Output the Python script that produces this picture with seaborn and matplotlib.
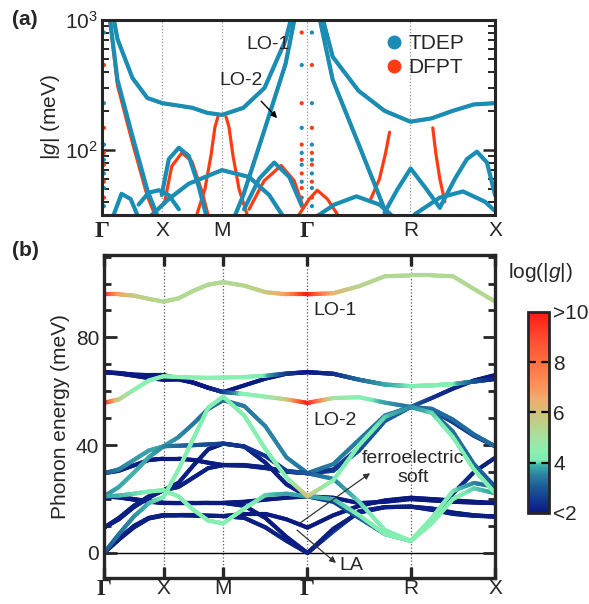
import numpy as np
import matplotlib
matplotlib.use("Agg")
import matplotlib.pyplot as plt
import seaborn as sns
import pandas as pd
from matplotlib.collections import LineCollection
from matplotlib.colors import LinearSegmentedColormap, Normalize
from matplotlib.lines import Line2D

sns.set_style("ticks")
plt.rcParams['font.family'] = ['Liberation Sans', 'DejaVu Sans']
plt.rcParams['mathtext.fontset'] = 'custom'
plt.rcParams['mathtext.rm'] = 'Liberation Sans'
plt.rcParams['mathtext.it'] = 'Liberation Sans:italic'

# ---- path Γ-X-M-Γ-R-X (cubic, units of 2π/a)
hs_labels = ['Γ', 'X', 'M', 'Γ', 'R', 'X']
hs_k = [0.0, 0.5, 1.0, 1.707, 2.573, 3.280]
k_grid = [0.0, 0.125, 0.25, 0.375, 0.5, 0.625, 0.75, 0.875, 1.0,
          1.177, 1.354, 1.530, 1.707, 1.924, 2.140, 2.357, 2.573,
          2.750, 2.927, 3.103, 3.280]

# ---- (b) phonon bands (meV) and log|g| colour along k_grid
e_lo1 = [96.0, 96.0, 95.5, 94.3, 93.3, 94.5, 97.3, 99.6, 100.5, 99.2, 96.8, 96.0, 96.0, 96.4, 99.0, 102.7, 103.0, 103.0, 102.7, 98.0, 93.3]
c_lo1 = [10, 6.8, 5.8, 5.5, 5.4, 5.3, 5.3, 5.3, 5.3, 5.4, 5.7, 6.8, 10, 6.3, 5.5, 5.3, 5.3, 5.3, 5.3, 5.3, 5.4]
e_b2 = [67.1, 66.6, 65.8, 64.9, 64.3, 64.4, 63.2, 61.3, 59.7, 59.0, 58.0, 57.0, 55.7, 57.5, 57.8, 55.8, 54.2, 57.5, 61.0, 64.0, 66.0]
c_b2 = [2.0, 2.0, 2.0, 2.0, 2.0, 2.0, 2.0, 2.0, 2.5, 4.4, 4.6, 5.6, 10, 5.0, 4.4, 3.8, 3.3, 2.4, 2.2, 2.1, 2.0]
e_b3 = [55.7, 57.0, 60.5, 64.0, 65.6, 65.3, 65.1, 65.0, 65.1, 65.3, 65.8, 66.6, 67.1, 66.5, 64.3, 62.5, 61.9, 62.2, 62.7, 63.6, 64.6]
c_b3 = [10, 5.6, 4.6, 4.4, 4.4, 4.4, 4.4, 4.4, 4.4, 4.4, 4.1, 2.6, 2.0, 2.3, 3.2, 3.8, 4.1, 4.2, 4.2, 3.0, 2.2]
e_b4 = [29.6, 31.0, 34.5, 38.0, 39.6, 43.0, 48.0, 53.5, 56.7, 54.5, 47.0, 35.5, 29.6, 33.0, 42.0, 51.0, 54.2, 53.5, 49.5, 44.0, 39.6]
c_b4 = [3.0, 3.4, 3.7, 3.8, 3.8, 3.6, 3.4, 3.3, 3.3, 3.4, 3.5, 3.5, 3.3, 3.4, 3.4, 3.3, 3.2, 3.2, 3.2, 3.2, 3.2]
e_b5 = [29.6, 30.5, 32.5, 34.5, 35.0, 35.0, 34.5, 33.5, 32.6, 32.6, 31.8, 30.2, 29.6, 31.0, 39.0, 49.5, 54.2, 52.5, 45.0, 33.0, 24.6]
c_b5 = [2.6, 2.3, 2.1, 2.0, 2.0, 2.0, 2.0, 2.0, 2.1, 2.1, 2.1, 2.2, 2.5, 2.4, 2.8, 3.0, 3.0, 3.2, 3.3, 3.2, 3.0]
e_b6 = [21.0, 24.5, 29.8, 35.5, 39.6, 39.8, 40.0, 40.3, 40.6, 39.5, 36.0, 30.5, 29.6, 27.5, 19.0, 8.5, 4.5, 11.0, 20.0, 24.0, 22.2]
c_b6 = [3.6, 3.8, 3.9, 3.8, 3.6, 3.2, 3.0, 2.8, 2.6, 2.4, 2.4, 2.6, 3.0, 3.5, 4.0, 4.2, 4.3, 4.3, 4.2, 4.0, 3.8]
e_b7 = [21.0, 20.8, 20.0, 19.2, 18.6, 18.5, 18.5, 18.6, 18.6, 19.0, 19.8, 20.5, 21.0, 20.5, 18.5, 19.0, 20.0, 19.5, 19.0, 18.7, 18.5]
c_b7 = [2.0] * 21
e_b8 = [9.4, 13.0, 17.5, 21.0, 23.3, 26.0, 32.5, 38.5, 40.6, 39.5, 33.5, 25.5, 21.0, 19.0, 13.0, 7.0, 4.5, 12.0, 22.0, 30.0, 35.3]
c_b8 = [2.1] * 12 + [2.3, 2.6, 3.0, 3.4, 3.6, 3.0, 2.5, 2.2, 2.1]
e_b9 = [0.0, 7.0, 13.5, 18.5, 20.8, 31.0, 42.5, 54.0, 58.0, 51.0, 38.5, 28.0, 21.0, 27.0, 40.0, 50.5, 54.2, 52.0, 43.0, 31.0, 22.2]
c_b9 = [3.0, 3.3, 3.6, 3.9, 4.1, 4.3, 4.3, 4.3, 4.3, 4.3, 4.3, 4.3, 6.0, 4.3, 4.2, 4.0, 3.6, 4.0, 4.2, 4.3, 4.3]
e_b10 = [0.0, 5.0, 9.5, 12.8, 13.9, 14.0, 14.0, 13.8, 13.7, 14.5, 14.5, 12.5, 9.4, 14.0, 17.5, 19.5, 20.5, 20.0, 19.5, 19.0, 18.5]
c_b10 = [2.0] * 21
e_b11 = [0.0, 5.3, 10.0, 13.0, 14.1, 14.0, 13.9, 13.8, 13.7, 13.0, 9.5, 4.5, 0.0, 9.0, 15.0, 17.0, 17.2, 16.0, 14.5, 13.8, 13.5]
c_b11 = [2.1] * 21
e_b12 = [9.4, 12.5, 17.0, 20.5, 23.3, 24.5, 28.0, 31.5, 32.6, 32.4, 31.5, 30.2, 29.6, 30.5, 38.0, 49.0, 54.2, 53.0, 48.5, 43.5, 39.6]
c_b12 = [2.1] * 12 + [2.5, 2.7, 2.9, 3.0, 3.0, 2.8, 2.6, 2.5, 2.4]
e_b13 = [21.0, 21.3, 22.0, 22.8, 23.3, 21.0, 16.0, 12.0, 11.0, 16.5, 21.5, 22.0, 21.0, 20.0, 14.0, 7.0, 4.5, 13.0, 23.0, 26.0, 24.6]
c_b13 = [3.8, 3.9, 4.0, 4.1, 4.2, 4.3, 4.3, 4.3, 4.3, 4.2, 4.0, 3.8, 3.8, 3.9, 4.1, 4.2, 4.3, 4.3, 4.1, 3.6, 3.0]
e_b14 = [21.0, 20.6, 19.8, 19.0, 18.6, 18.6, 18.6, 18.6, 18.6, 17.5, 13.0, 6.0, 0.0, 8.0, 15.5, 17.0, 17.2, 16.5, 15.0, 14.0, 13.5]
c_b14 = [2.0] * 12 + [2.2, 2.6, 2.4, 2.2, 2.1, 2.1, 2.0, 2.0, 2.0]
e_b15 = [67.1, 66.8, 66.2, 66.0, 66.0, 64.8, 63.2, 61.3, 59.7, 62.2, 64.7, 66.5, 67.1, 66.5, 64.3, 62.5, 61.9, 62.2, 62.7, 63.6, 64.6]
c_b15 = [2.0] * 13 + [2.3, 3.2, 3.8, 4.1, 4.2, 4.2, 3.0, 2.2]

# ---- (a) |g| (meV) curves: (k, value) pairs
g_lo1_tdep = [3000, 714, 358, 251, 229, 220, 211, 193, 186, 211, 300, 700, 3000, 520, 285, 200, 165, 175, 200, 224, 229]
k_lo2_gx = [0.0, 0.125, 0.25, 0.375, 0.5]
g_lo2_gx_tdep = [3000, 346, 128, 49, 25]
g_lo2_gx_dfpt = [3000, 315, 114, 44, 23]
k_lo2_mg = [1.0, 1.177, 1.354, 1.530, 1.707]
g_lo2_mg = [18, 45, 143, 460, 3000]
k_lo2_gr = [1.707, 1.924, 2.140, 2.357, 2.573]
g_lo2_gr = [3000, 346, 111, 35, 18]

k_arch_xm_tdep = [0.495, 0.554, 0.638, 0.721, 0.805, 0.872]
g_arch_xm_tdep = [45, 85, 104, 90, 52, 30]
k_arch_xm_dfpt = [0.520, 0.579, 0.663, 0.747, 0.831, 0.889]
g_arch_xm_dfpt = [40, 75, 95, 82, 48, 30]
k_arch_m = [0.386, 0.554, 0.721, 0.998, 1.225, 1.393, 1.518]
g_arch_m = [30, 42, 55, 70, 62, 45, 30]
k_arch_gx = [0.084, 0.159, 0.235, 0.302]
g_arch_gx = [30, 46, 42, 30]
k_flat_x = [0.302, 0.386, 0.470, 0.554, 0.638]
g_flat_x = [38, 47, 49, 45, 35]
k_arch_mg_tdep = [1.183, 1.309, 1.435, 1.561, 1.661]
g_arch_mg_tdep = [35, 60, 80, 62, 38]
k_arch_mg_dfpt = [1.225, 1.351, 1.493, 1.602, 1.678]
g_arch_mg_dfpt = [35, 58, 76, 58, 36]
k_arch_r = [2.357, 2.466, 2.575, 2.693, 2.819]
g_arch_r = [33, 50, 72, 52, 36]
k_arch_rx = [2.819, 2.945, 3.045, 3.129, 3.213, 3.280]
g_arch_rx = [36, 60, 85, 97, 80, 45]
k_low_gr = [1.770, 1.938, 2.122, 2.315, 2.441]
g_low_gr = [30, 38, 44, 38, 30]
k_low_rx = [2.609, 2.819, 3.012, 3.196, 3.280]
g_low_rx = [32, 43, 48, 40, 34]
k_spike_m1 = [0.789, 0.856, 0.906, 0.940, 0.965]
g_spike_m1 = [32, 50, 90, 150, 180]
k_spike_m2 = [1.032, 1.057, 1.091, 1.141, 1.208]
g_spike_m2 = [180, 150, 90, 50, 32]
k_spike_r1 = [2.232, 2.315, 2.366, 2.399]
g_spike_r1 = [40, 60, 95, 137]
k_spike_r2 = [2.861, 2.819, 2.785, 2.760]
g_spike_r2 = [40, 60, 95, 148]
k_low_g_dfpt = [1.644, 1.728, 1.795, 1.879, 1.963]
g_low_g_dfpt = [32, 42, 49, 42, 32]
# points just off Γ (dotted columns)
k_col = [0.012, 1.665, 1.750]
g_col = [37, 43, 51, 57, 66, 77, 84, 95, 110, 148, 229, 450, 800]

tdep_color = '#1a8db4'
dfpt_color = '#fe3c14'

# colour map log|g| 2..10
cmap = LinearSegmentedColormap.from_list('gcm', [
    (0.000, '#0a1a80'), (0.060, '#12368f'), (0.125, '#1a5a9a'),
    (0.190, '#2a84a2'), (0.235, '#3fb0aa'), (0.260, '#7ceeb2'),
    (0.310, '#8cf0b0'), (0.375, '#a4e2a0'), (0.440, '#bcd28a'),
    (0.500, '#d2c07a'), (0.560, '#f0ae6c'), (0.625, '#fb955a'),
    (0.750, '#ff7040'), (0.875, '#ff4a2c'), (1.000, '#ff1a10')])
norm = Normalize(2, 10)

fig = plt.figure(figsize=(5.89, 6.04), dpi=100)
ax_a = fig.add_axes([0.1740, 0.644, 0.6664, 0.323])
ax_b = fig.add_axes([0.1766, 0.0430, 0.6638, 0.534])
cax = fig.add_axes([0.8964, 0.1507, 0.0357, 0.333])

# ================= panel (a)
curves_a = [
    ('DFPT', k_grid, g_lo1_tdep), ('DFPT', k_lo2_gx, g_lo2_gx_dfpt),
    ('DFPT', k_lo2_mg, g_lo2_mg), ('DFPT', k_lo2_gr, g_lo2_gr),
    ('DFPT', k_arch_xm_dfpt, g_arch_xm_dfpt), ('DFPT', k_arch_mg_dfpt, g_arch_mg_dfpt),
    ('DFPT', k_spike_m1, g_spike_m1), ('DFPT', k_spike_m2, g_spike_m2),
    ('DFPT', k_spike_r1, g_spike_r1), ('DFPT', k_spike_r2, g_spike_r2),
    ('DFPT', k_low_g_dfpt, g_low_g_dfpt), ('DFPT', k_arch_m, g_arch_m),
    ('TDEP', k_grid, g_lo1_tdep), ('TDEP', k_lo2_gx, g_lo2_gx_tdep),
    ('TDEP', k_lo2_mg, g_lo2_mg), ('TDEP', k_lo2_gr, g_lo2_gr),
    ('TDEP', k_arch_xm_tdep, g_arch_xm_tdep), ('TDEP', k_arch_m, g_arch_m),
    ('TDEP', k_arch_gx, g_arch_gx), ('TDEP', k_flat_x, g_flat_x),
    ('TDEP', k_arch_mg_tdep, g_arch_mg_tdep), ('TDEP', k_arch_r, g_arch_r),
    ('TDEP', k_arch_rx, g_arch_rx), ('TDEP', k_low_gr, g_low_gr),
    ('TDEP', k_low_rx, g_low_rx),
]
rows = []
for i, (meth, kk, gg) in enumerate(curves_a):
    for k, g in zip(kk, gg):
        rows.append({'k': k, 'g': g, 'curve': i, 'method': meth})
df_a = pd.DataFrame(rows)

ax_a.set_yscale('log')
sns.lineplot(data=df_a[df_a.method == 'DFPT'], x='k', y='g', units='curve',
             estimator=None, sort=False, color=dfpt_color, lw=2.3, ax=ax_a, legend=False)
sns.lineplot(data=df_a[df_a.method == 'TDEP'], x='k', y='g', units='curve',
             estimator=None, sort=False, color=tdep_color, lw=3.0, ax=ax_a, legend=False)

col_rows = []
for j, kc in enumerate(k_col):
    for n, g in enumerate(g_col):
        col_rows.append({'k': kc, 'g': g, 'method': 'TDEP' if (n + j) % 2 == 0 else 'DFPT'})
df_col = pd.DataFrame(col_rows)
sns.scatterplot(data=df_col, x='k', y='g', hue='method',
                palette={'TDEP': tdep_color, 'DFPT': dfpt_color},
                s=9, edgecolor='none', ax=ax_a, legend=False)

ax_a.set_xlim(hs_k[0], hs_k[-1])
ax_a.set_ylim(31.6, 1000)
for k in hs_k[1:-1]:
    ax_a.axvline(k, color='#999999', ls=':', lw=0.9, zorder=0)
ax_a.set_xticks(hs_k)
ax_a.set_xticklabels(hs_labels)
ax_a.set_xlabel('')
ax_a.set_ylabel('|$g$| (meV)', fontsize=15, labelpad=2)
ax_a.tick_params(axis='x', length=0, labelsize=15, pad=4)
ax_a.tick_params(axis='y', which='major', direction='in', length=9, width=1.8,
                 labelsize=15, right=True)
ax_a.tick_params(axis='y', which='minor', direction='in', length=5, width=1.4, right=True)
for s in ax_a.spines.values():
    s.set_linewidth(2.2)

ax_a.text(0.422, 0.872, 'LO-1', transform=ax_a.transAxes, fontsize=14,
          ha='center', va='center')
ax_a.annotate('LO-2', xy=(0.445, 0.497), xytext=(0.354, 0.69),
              xycoords='axes fraction', textcoords='axes fraction',
              fontsize=14, ha='center', va='center',
              arrowprops=dict(arrowstyle='-|>', color='k', lw=1.0,
                              shrinkA=9, shrinkB=0, mutation_scale=9))
handles = [Line2D([], [], ls='none', marker='o', ms=9, color=tdep_color),
           Line2D([], [], ls='none', marker='o', ms=9, color=dfpt_color)]
ax_a.legend(handles, ['TDEP', 'DFPT'], loc='upper left', bbox_to_anchor=(0.69, 0.97),
            frameon=False, fontsize=15, handletextpad=0.1, labelspacing=0.25,
            handlelength=1.2, borderaxespad=0)

# ================= panel (b)
bands = [(e_lo1, c_lo1), (e_b2, c_b2), (e_b3, c_b3), (e_b4, c_b4), (e_b5, c_b5),
         (e_b6, c_b6), (e_b7, c_b7), (e_b8, c_b8), (e_b9, c_b9), (e_b10, c_b10),
         (e_b11, c_b11), (e_b12, c_b12), (e_b13, c_b13), (e_b14, c_b14), (e_b15, c_b15)]
bands = sorted(bands, key=lambda b: np.mean(b[1]))


def draw_band(ax, e, c, nsub=10):
    k = np.asarray(k_grid)
    e = np.asarray(e, float)
    c = np.asarray(c, float)
    segs, vals = [], []
    for i in range(len(k) - 1):
        for j in range(nsub):
            t0, t1 = j / nsub, (j + 1) / nsub
            p0 = (k[i] + t0 * (k[i + 1] - k[i]), e[i] + t0 * (e[i + 1] - e[i]))
            p1 = (k[i] + t1 * (k[i + 1] - k[i]), e[i] + t1 * (e[i + 1] - e[i]))
            segs.append([p0, p1])
            vals.append(c[i] + 0.5 * (t0 + t1) * (c[i + 1] - c[i]))
    lc = LineCollection(segs, cmap=cmap, norm=norm, linewidths=3.0,
                        capstyle='round', joinstyle='round')
    lc.set_array(np.array(vals))
    ax.add_collection(lc)


for e, c in bands:
    draw_band(ax_b, e, c)

ax_b.axhline(0, color='k', lw=1.0, zorder=0)
for k in hs_k[1:-1]:
    ax_b.axvline(k, color='#555555', ls=':', lw=0.9, zorder=0)
ax_b.set_xlim(hs_k[0], hs_k[-1])
ax_b.set_ylim(-9.3, 110.4)
ax_b.set_xticks(hs_k)
ax_b.set_xticklabels(hs_labels)
ax_b.set_yticks([0, 40, 80])
ax_b.set_yticks(np.arange(0, 111, 10), minor=True)
ax_b.set_ylabel('Phonon energy (meV)', fontsize=15, labelpad=4)
ax_b.tick_params(axis='x', direction='in', length=8, width=2.4, top=True,
                 labelsize=15, pad=1)
ax_b.tick_params(axis='y', which='major', direction='in', length=9, width=2.0,
                 labelsize=15, right=True)
ax_b.tick_params(axis='y', which='minor', direction='in', length=5, width=2.0, right=True)
for s in ax_b.spines.values():
    s.set_linewidth(2.4)

for ax in (ax_a, ax_b):
    for lab in ax.get_xticklabels():
        if lab.get_text() == 'Γ':
            lab.set_fontfamily('Liberation Serif')
            lab.set_fontweight('bold')
            lab.set_fontsize(17)

ax_b.text(1.938, 90.0, 'LO-1', fontsize=14, ha='center', va='center')
ax_b.text(1.938, 49.3, 'LO-2', fontsize=14, ha='center', va='center')
ax_b.text(2.590, 31.5, 'ferroelectric\nsoft', fontsize=14, ha='center',
          va='center', linespacing=1.1)
ax_b.annotate('', xy=(2.232, 29.6), xytext=(1.644, 11.1),
              arrowprops=dict(arrowstyle='-|>', color='#333333', lw=0.9,
                              shrinkA=0, shrinkB=0, mutation_scale=9))
ax_b.annotate('', xy=(1.946, -3.7), xytext=(1.619, 8.5),
              arrowprops=dict(arrowstyle='-|>', color='#333333', lw=0.9,
                              shrinkA=0, shrinkB=0, mutation_scale=9))
ax_b.text(1.975, -4.6, 'LA', fontsize=14, ha='left', va='center')

# colour bar
sm = plt.cm.ScalarMappable(cmap=cmap, norm=norm)
cb = fig.colorbar(sm, cax=cax, ticks=[2, 4, 6, 8, 10])
cb.ax.set_yticklabels(['<2', '4', '6', '8', '>10'])
cb.outline.set_linewidth(2.0)
cax.tick_params(length=0, labelsize=15, pad=3)
for v in [4, 6, 8]:
    cax.axhline(v, color='k', ls=(0, (3.5, 2.5)), lw=1.6)
fig.text(540 / 589, 1 - 273 / 604, 'log(|$g$|)', fontsize=15, ha='center', va='center')

fig.text(0.020, 0.967, '(a)', fontsize=15, fontweight='bold', va='center')
fig.text(0.020, 0.585, '(b)', fontsize=15, fontweight='bold', va='center')

fig.savefig('out.png', dpi=100)
